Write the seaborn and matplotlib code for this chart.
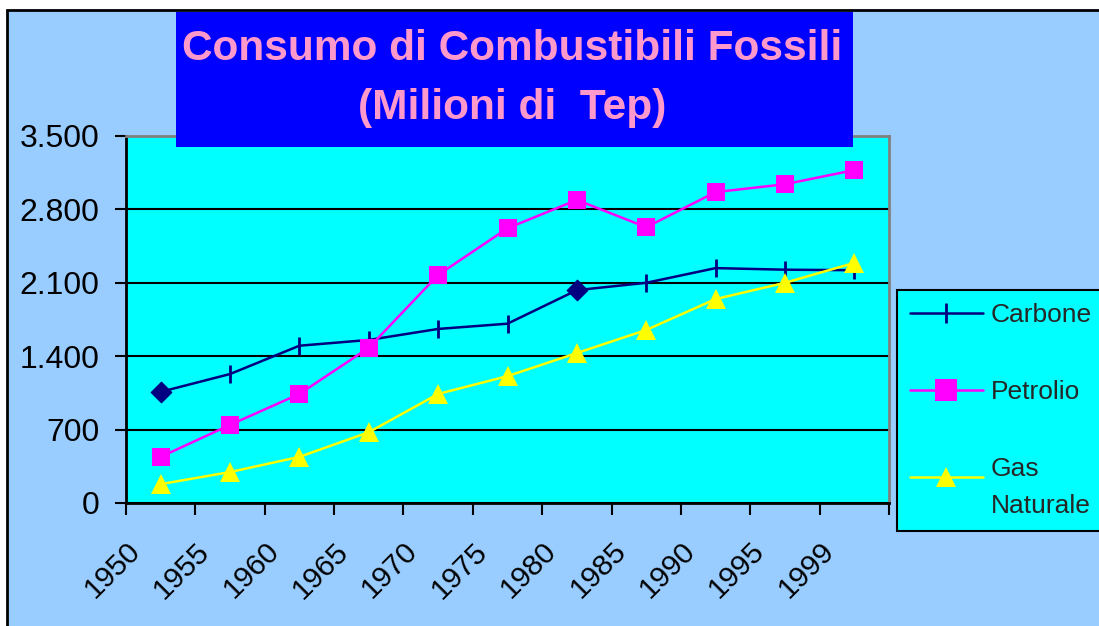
import matplotlib
matplotlib.use("Agg")
import matplotlib.pyplot as plt
import seaborn as sns
from matplotlib.patches import Rectangle
from matplotlib.lines import Line2D
from matplotlib.legend_handler import HandlerLine2D
from matplotlib.transforms import ScaledTranslation

# dati (milioni di Tep)
anni = ["1950", "1955", "1960", "1965", "1970", "1975", "1980", "1985", "1990", "1995", "1999"]
carbone = [1060, 1230, 1500, 1555, 1660, 1710, 2030, 2100, 2240, 2225, 2220]
petrolio = [440, 745, 1040, 1480, 2175, 2620, 2890, 2630, 2965, 3040, 3175]
gas = [180, 295, 440, 675, 1040, 1210, 1430, 1650, 1945, 2100, 2290]
punti_rombo = [0, 6]  # punti di Carbone con marcatore a rombo
y_ticks = [0, 700, 1400, 2100, 2800, 3500]
y_labels = ["0", "700", "1.400", "2.100", "2.800", "3.500"]

sns.set_style("white")
plt.rcParams['font.family'] = ['Liberation Sans', 'DejaVu Sans']

W, H = 1099, 626
fig = plt.figure(figsize=(W / 100, H / 100), dpi=100, facecolor="white")

# sfondo azzurro con bordo nero
fig.patches.append(Rectangle((7 / W, -0.05), 1.1, 1 - 10 / H + 0.05, transform=fig.transFigure,
                             facecolor="#99CCFF", edgecolor="black", lw=2, zorder=-5))

ax = fig.add_axes([126 / W, 1 - 503 / H, (889 - 126) / W, (503 - 136) / H])
ax.set_facecolor("#00FFFF")

altri = [i for i in range(len(anni)) if i not in punti_rombo]
sns.lineplot(x=anni, y=carbone, color="#000080", lw=1.8, marker="|", markersize=13,
             markeredgewidth=2, markeredgecolor="#000080", markevery=altri, sort=False, ax=ax)
sns.scatterplot(x=[anni[i] for i in punti_rombo], y=[carbone[i] for i in punti_rombo],
                color="#000080", marker="D", s=110, edgecolor="#000080", ax=ax, zorder=5)
sns.lineplot(x=anni, y=petrolio, color="#FF00FF", lw=1.8, marker="s", markersize=13,
             markeredgewidth=0, sort=False, ax=ax)
sns.lineplot(x=anni, y=gas, color="#FFFF00", lw=1.8, marker="^", markersize=15,
             markeredgewidth=0, sort=False, ax=ax)

ax.set_ylim(0, 3500)
ax.set_xlim(-0.5, len(anni) - 0.5)
ax.set_yticks(y_ticks)
ax.set_yticklabels(y_labels)
ax.set_xticks([i - 0.5 for i in range(len(anni) + 1)])
ax.set_xticklabels(anni + [""], rotation=45, ha="right", va="top", rotation_mode="anchor")
ax.set_xlabel("")
ax.set_ylabel("")
ax.grid(axis="y", color="black", lw=1.5)
ax.tick_params(axis="y", left=True, length=8, width=1.5, pad=11, labelsize=23, colors="black")
ax.tick_params(axis="x", bottom=True, length=8.5, width=1.5, pad=16, labelsize=21.5, colors="black")
for lbl in ax.get_xticklabels():
    lbl.set_transform(lbl.get_transform() + ScaledTranslation(0.0, 0, fig.dpi_scale_trans))

for s in ["left", "bottom"]:
    ax.spines[s].set_color("black")
    ax.spines[s].set_linewidth(2)
for s in ["top", "right"]:
    ax.spines[s].set_color("#808080")
    ax.spines[s].set_linewidth(2)


class HandlerAlto(HandlerLine2D):
    # alza il simbolo all'altezza della prima riga dell'etichetta
    def __init__(self, shift, **kw):
        super().__init__(**kw)
        self.shift = shift

    def create_artists(self, legend, orig_handle, xdescent, ydescent, width, height, fontsize, trans):
        return super().create_artists(legend, orig_handle, xdescent, ydescent - self.shift,
                                      width, height, fontsize, trans)


# legenda
handles = [
    Line2D([], [], color="#000080", lw=1.8, marker="|", markersize=15, markeredgewidth=2),
    Line2D([], [], color="#FF00FF", lw=1.8, marker="s", markersize=16, markeredgewidth=0),
    Line2D([], [], color="#FFFF00", lw=1.8, marker="^", markersize=15, markeredgewidth=0),
]
leg = fig.legend(handles, ["Carbone", "Petrolio", "Gas\nNaturale"], loc="upper left",
                 bbox_to_anchor=(897 / W, 1 - 290 / H), fontsize=19, frameon=True,
                 facecolor="#00FFFF", edgecolor="black", fancybox=False, framealpha=1,
                 handlelength=2.75, handletextpad=0.3, labelspacing=2.0, borderpad=0.5,
                 borderaxespad=0, handler_map={handles[2]: HandlerAlto(16)})
leg.get_frame().set_linewidth(1.5)
leg.get_texts()[2].set_linespacing(1.7)

# riquadro del titolo
fig.patches.append(Rectangle((176 / W, 1 - 147 / H), (853 - 176) / W, (147 - 12) / H,
                             transform=fig.transFigure, facecolor="#0000FF", edgecolor="none", zorder=5))
fig.text(512 / W, 1 - 49 / H, "Consumo di Combustibili Fossili", ha="center", va="center",
         fontsize=30.5, weight="bold", color="#FF99CC", zorder=6)
fig.text(512 / W, 1 - 108 / H, "(Milioni di  Tep)", ha="center", va="center",
         fontsize=30.5, weight="bold", color="#FF99CC", zorder=6)

fig.savefig("out.png", dpi=100, facecolor="white")
